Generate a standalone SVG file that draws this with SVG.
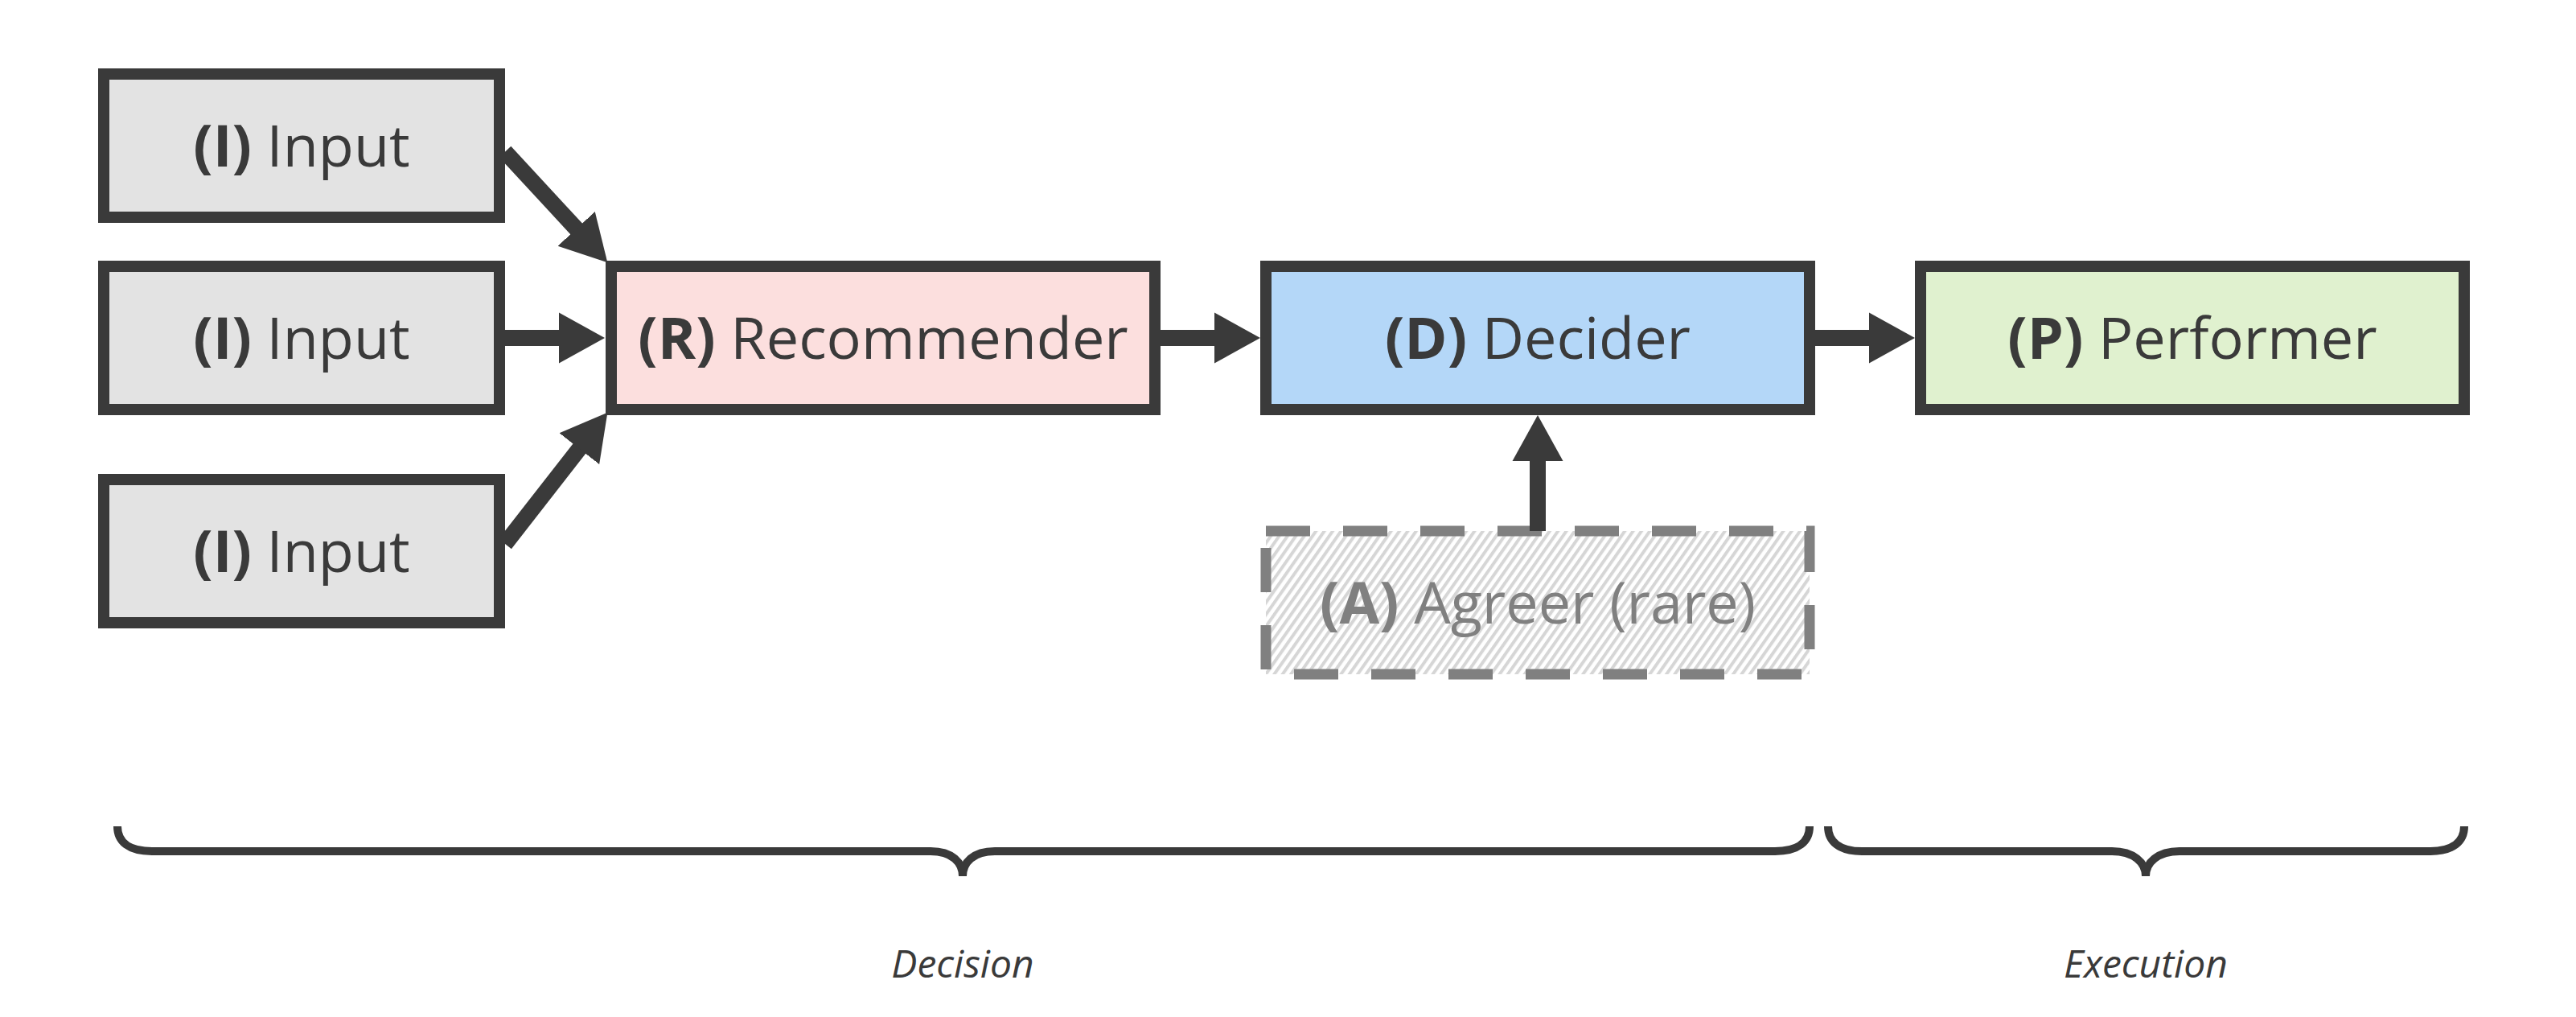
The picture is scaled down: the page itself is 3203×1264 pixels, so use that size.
<svg xmlns="http://www.w3.org/2000/svg" width="3203" height="1264" viewBox="0 0 3203 1264">
<style>
.box{stroke:#3a3a3a;stroke-width:14}
.lbl{font-family:"Open Sans","Noto Sans",sans-serif;font-size:72px;fill:#3a3a3a;text-anchor:middle}
.lbl .b{font-weight:700}
.conn{stroke:#3a3a3a;stroke-width:20;fill:none;marker-end:url(#ah)}
.brace{stroke:#3a3a3a;stroke-width:10;fill:none}
.cap{font-family:"Open Sans","Noto Sans",sans-serif;font-size:48px;font-style:italic;fill:#3a3a3a;text-anchor:middle}
</style>
<defs>
<marker id="ah" markerUnits="userSpaceOnUse" markerWidth="58" markerHeight="64" viewBox="0 0 58 64" refX="1" refY="32" orient="auto">
<path d="M0,0.5 L57,32 L0,63.5 z" fill="#3a3a3a"/>
</marker>
<pattern id="hatch" patternUnits="userSpaceOnUse" width="8.5" height="8.5" patternTransform="rotate(35)">
<rect width="8.5" height="8.5" fill="#ffffff"/>
<rect width="4" height="8.5" fill="#d6d6d6"/>
</pattern>
</defs>
<rect width="3203" height="1264" fill="#ffffff"/>
<g id="input1">
<rect class="box" x="129" y="92" width="492" height="178" fill="#e3e3e3"/>
<text class="lbl" x="375" y="207"><tspan class="b">(I)</tspan> Input</text>
</g>
<g id="input2">
<rect class="box" x="129" y="331" width="492" height="178" fill="#e3e3e3"/>
<text class="lbl" x="375" y="446"><tspan class="b">(I)</tspan> Input</text>
</g>
<g id="input3">
<rect class="box" x="129" y="596" width="492" height="178" fill="#e3e3e3"/>
<text class="lbl" x="375" y="711"><tspan class="b">(I)</tspan> Input</text>
</g>
<g id="recommender">
<rect class="box" x="760" y="331" width="676" height="178" fill="#fcdfde"/>
<text class="lbl" x="1098" y="446"><tspan class="b">(R)</tspan> Recommender</text>
</g>
<g id="decider">
<rect class="box" x="1574" y="331" width="676" height="178" fill="#b4d7f8"/>
<text class="lbl" x="1912" y="446"><tspan class="b">(D)</tspan> Decider</text>
</g>
<g id="performer">
<rect class="box" x="2388" y="331" width="676" height="178" fill="#e0f1cf"/>
<text class="lbl" x="2726" y="446"><tspan class="b">(P)</tspan> Performer</text>
</g>
<g id="agreer">
<rect x="1574" y="660" width="676" height="178" fill="url(#hatch)" stroke="#808080" stroke-width="13" stroke-dasharray="55 41"/>
<text class="lbl" x="1912" y="775" style="fill:#808080"><tspan class="b">(A)</tspan> Agreer (rare)</text>
</g>
<g id="connectors">
<line class="conn" x1="628" y1="188.6" x2="717.3" y2="285.15"/>
<line class="conn" x1="628" y1="420" x2="696" y2="420"/>
<line class="conn" x1="628" y1="676" x2="720.93" y2="556.94"/>
<line class="conn" x1="1443" y1="420" x2="1511" y2="420"/>
<line class="conn" x1="2257" y1="420" x2="2325" y2="420"/>
<line class="conn" x1="1912" y1="660" x2="1912" y2="572"/>
</g>
<g id="brace-decision">
<path class="brace" d="M146,1027 C146,1046 160,1058 189,1058 L1157,1058 C1184,1058 1197,1072 1197,1089 M1197,1089 C1197,1072 1210,1058 1237,1058 L2207,1058 C2236,1058 2250,1046 2250,1027"/>
<text class="cap" x="1197" y="1215">Decision</text>
</g>
<g id="brace-execution">
<path class="brace" d="M2273,1027 C2273,1046 2287,1058 2315,1058 L2626,1058 C2653,1058 2668,1072 2668,1089 M2668,1089 C2668,1072 2683,1058 2710,1058 L3022,1058 C3050,1058 3064,1046 3064,1027"/>
<text class="cap" x="2668" y="1215">Execution</text>
</g>
</svg>
